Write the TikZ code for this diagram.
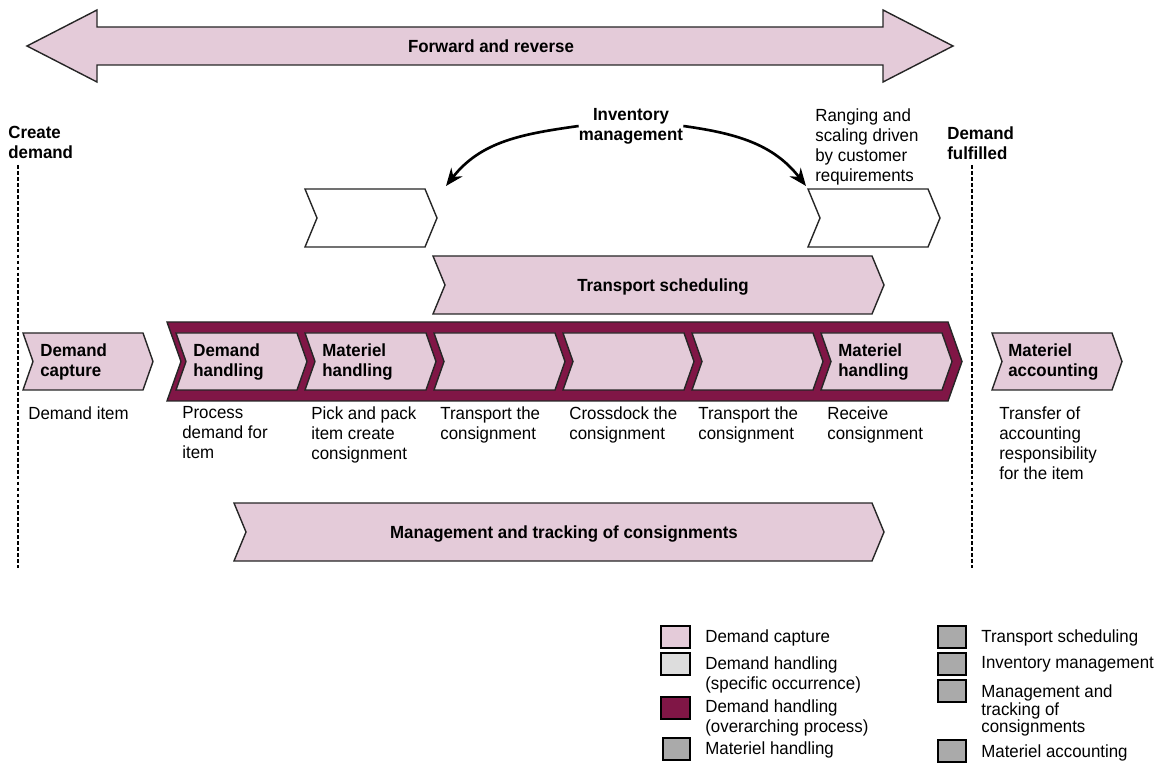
\documentclass[tikz,border=0pt]{standalone}
\usepackage{fontspec}
\setmainfont{Liberation Sans}[FakeStretch=0.96]
\usetikzlibrary{math}
\usetikzlibrary{arrows.meta}

\definecolor{chevpink}{RGB}{228,203,217}
\definecolor{bandred}{RGB}{128,22,70}
\definecolor{keygrey}{RGB}{170,170,170}
\definecolor{keylight}{RGB}{221,221,221}

\tikzset{
  chev/.style={draw=black!85,line width=0.8pt,fill=chevpink,line join=miter},
  chevwhite/.style={chev,fill=white},
  band/.style={draw=black!85,line width=0.8pt,fill=bandred},
  boldlbl/.style={anchor=north west,inner sep=0pt,align=left,font=\fontsize{10}{11.4}\selectfont\bfseries},
  boldmid/.style={inner sep=0pt,align=center,font=\fontsize{10}{11.4}\selectfont\bfseries},
  desclbl/.style={anchor=north west,inner sep=0pt,align=left,font=\fontsize{10}{11.4}\selectfont},
  keybox/.style={draw=black,line width=1.4pt},
  fence/.style={line width=1.1pt,dash pattern=on 2.2pt off 1.2pt},
  bendarrow/.style={line width=1.5pt,-{Stealth[length=10pt,width=8pt]}}
}

\begin{document}
\begin{tikzpicture}[x=0.02cm,y=-0.02cm]
\useasboundingbox (0,0) rectangle (1156,763);
%%%% chevron outline, starts at top left corner
\def\chevpath#1{-- ++(#1,0) -- ++(\ct,\chh) -- ++(-\ct,\chh) -- ++(-#1,0) -- ++(\ct,-\chh) -- cycle}
%%%%%% forward and reverse arrow
\draw[chev] (27,46) -- (97,10) -- (97,27) -- (883,27) -- (883,10) -- (953,46)
  -- (883,82) -- (883,65) -- (97,65) -- (97,82) -- cycle;
\node[boldmid] (fwd) at (491,46) {Forward and reverse};
%%%%%% start and end fences
\draw[fence] (18,165) -- (18,568);
\draw[fence] (972,165) -- (972,568);
\node[boldlbl] (create) at (8,126) {Create\\demand};
\node[boldlbl] (fulfil) at (947,126) {Demand\\fulfilled};
%%%%%% inventory management
\node[boldmid] (inv) at (631,126) {Inventory\\management};
\node[desclbl] (ranging) at (815,108) {Ranging and\\scaling driven\\by customer\\requirements};
\coordinate (invL) at (446,186);
\coordinate (invR) at (806,186);
\draw[bendarrow] (inv.west) to[out=188,in=52] (invL);
\draw[bendarrow] (inv.east) to[out=-8,in=128] (invR);
%%%%%% specific occurrence chevrons
\tikzmath{ \ct = 12; \chh = 29; }
\draw[chevwhite] (305,189) \chevpath{120};
\draw[chevwhite] (808,189) \chevpath{120};
%%%%%% transport scheduling
\draw[chev] (433,256) \chevpath{439};
\node[boldmid] (transport) at (663,287) {Transport scheduling};
%%%%%% management and tracking
\draw[chev] (234,503) \chevpath{638};
\node[boldmid] (tracking) at (564,534) {Management and tracking of consignments};
%%%%%% overarching band
\tikzmath{ \ct = 14; \chh = 39.5; }
\draw[band] (167,322) \chevpath{781};
%%%%%% row of chevrons
\tikzmath{ \ct = 10; \chh = 28.5; }
\draw[chev] (23,333) \chevpath{120};
\draw[chev] (992,333) \chevpath{120};
\foreach \i in {0,...,5} {
    \draw[chev] (176+129*\i,333) \chevpath{121};
}
\node[boldlbl] (capture) at (40,343) {Demand\\capture};
\node[boldlbl] (handling) at (193,343) {Demand\\handling};
\node[boldlbl] (pick) at (322,343) {Materiel\\handling};
\node[boldlbl] (receive) at (838,343) {Materiel\\handling};
\node[boldlbl] (accounting) at (1008,343) {Materiel\\accounting};
%%%% text below the row
\foreach \x/\txt [count=\n] in {28/{Demand item}, 182/{Process\\demand for\\item},
    311/{Pick and pack\\item create\\consignment}, 440/{Transport the\\consignment},
    569/{Crossdock the\\consignment}, 698/{Transport the\\consignment},
    827/{Receive\\consignment}, 999/{Transfer of\\accounting\\responsibility\\for the item}} {
    \node[desclbl] (desc\n) at (\x,406) {\txt};
}
%%%%%% key
\fill[chevpink] (661,626) rectangle (690,648);
\draw[keybox] (661,626) rectangle (690,648);
\node[desclbl] (keycap) at (705,629) {Demand capture};
\draw[keybox,fill=keylight] (661,653) rectangle (690,675);
\node[desclbl] (keyspec) at (705,656) {Demand handling\\(specific occurrence)};
\draw[keybox,fill=bandred] (661,697) rectangle (690,719);
\node[desclbl] (keyover) at (705,699) {Demand handling\\(overarching process)};
\draw[keybox,fill=keygrey] (663,738) rectangle (690,760);
\node[desclbl] (keymat) at (705,741) {Materiel handling};
\draw[keybox,fill=keygrey] (938,626) rectangle (966,648);
\node[desclbl] (keytrans) at (981,629) {Transport scheduling};
\draw[keybox,fill=keygrey] (938,653) rectangle (966,675);
\node[desclbl] (keyinv) at (981,656) {Inventory management};
\draw[keybox,fill=keygrey] (938,680) rectangle (966,702);
\node[desclbl,font=\fontsize{10}{10.2}\selectfont] (keytrack) at (981,684) {Management and\\tracking of\\consignments};
\draw[keybox,fill=keygrey] (938,740) rectangle (966,762);
\node[desclbl] (keyacc) at (981,744) {Materiel accounting};
\end{tikzpicture}
\end{document}
